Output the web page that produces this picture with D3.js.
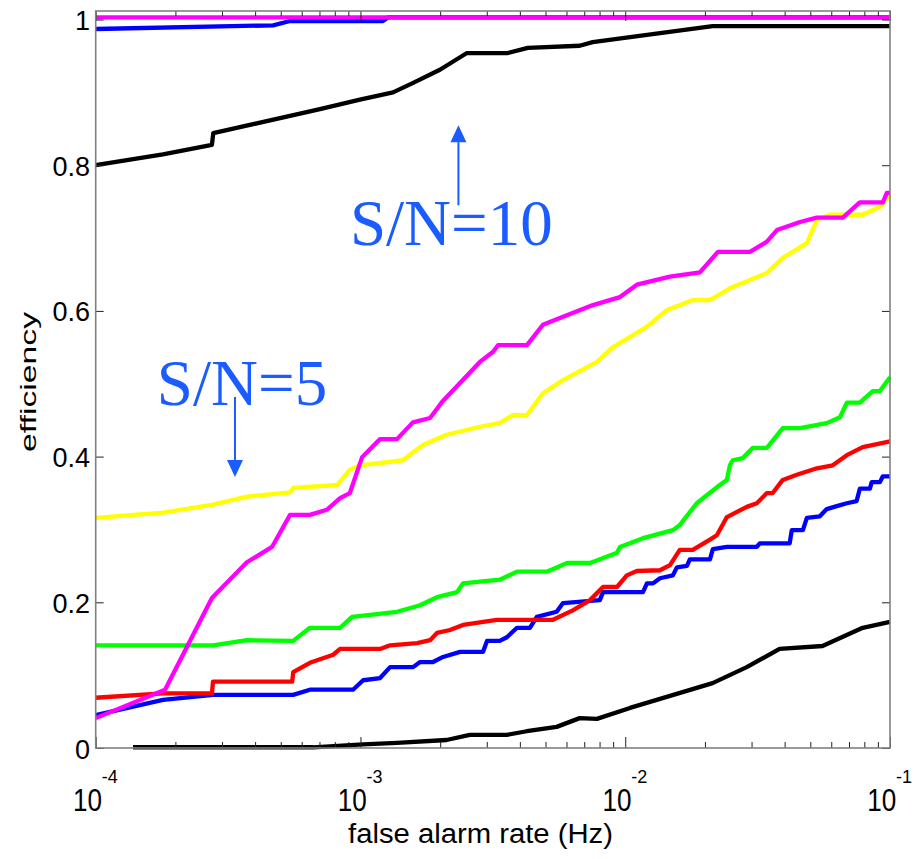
<!DOCTYPE html>
<html>
<head>
<meta charset="utf-8">
<script src="https://cdn.jsdelivr.net/npm/d3@7"></script>
<style>
  html, body { margin: 0; padding: 0; background: #fff; }
  svg { display: block; }
</style>
</head>
<body>
<svg id="chart" width="914" height="859"></svg>
<script>
// ---------------- DATA ----------------
// each point: [log10(false alarm rate in Hz), efficiency]
const xTickExponents = [-4, -3, -2, -1];
const yTickValues = [0, 0.2, 0.4, 0.6, 0.8, 1];
const yTickLabels = ["0", "0.2", "0.4", "0.6", "0.8", "1"];

// S/N = 10 curves
const snr10Black = [[-4.0,0.800],[-3.746,0.815],[-3.561,0.828],[-3.556,0.844],[-3.153,0.877],[-3.002,0.890],[-2.877,0.900],[-2.801,0.913],[-2.700,0.931],[-2.598,0.954],[-2.443,0.954],[-2.368,0.961],[-2.172,0.964],[-2.123,0.969],[-1.670,0.991],[-1.0,0.991]];
const snr10Blue = [[-4.0,0.987],[-3.330,0.992],[-3.266,0.998],[-2.915,0.998],[-2.896,1.003],[-1.0,1.003]];
const snr10Magenta = [[-4.0,1.003],[-1.0,1.003]];

// S/N = 5 curves
const snr5Black = [[-3.859,0.001],[-3.179,0.001],[-2.990,0.005],[-2.862,0.007],[-2.675,0.011],[-2.587,0.018],[-2.447,0.018],[-2.372,0.023],[-2.259,0.029],[-2.172,0.041],[-2.107,0.040],[-1.982,0.055],[-1.670,0.089],[-1.541,0.111],[-1.417,0.136],[-1.255,0.140],[-1.103,0.165],[-1.0,0.173]];
const snr5Blue = [[-4.0,0.045],[-3.746,0.066],[-3.557,0.073],[-3.254,0.073],[-3.191,0.080],[-3.028,0.080],[-2.990,0.093],[-2.926,0.096],[-2.888,0.111],[-2.801,0.111],[-2.775,0.118],[-2.726,0.118],[-2.688,0.125],[-2.624,0.132],[-2.537,0.132],[-2.522,0.147],[-2.474,0.147],[-2.447,0.152],[-2.409,0.165],[-2.360,0.165],[-2.334,0.180],[-2.259,0.187],[-2.235,0.199],[-2.096,0.203],[-2.084,0.214],[-1.933,0.214],[-1.918,0.226],[-1.895,0.226],[-1.869,0.233],[-1.820,0.237],[-1.805,0.248],[-1.767,0.250],[-1.756,0.259],[-1.680,0.259],[-1.669,0.273],[-1.616,0.276],[-1.503,0.276],[-1.492,0.281],[-1.379,0.281],[-1.371,0.299],[-1.329,0.299],[-1.314,0.316],[-1.265,0.318],[-1.239,0.328],[-1.201,0.332],[-1.163,0.336],[-1.126,0.339],[-1.114,0.356],[-1.076,0.356],[-1.069,0.365],[-1.038,0.365],[-1.027,0.373],[-1.0,0.373]];
const snr5Red = [[-4.0,0.069],[-3.746,0.075],[-3.561,0.075],[-3.557,0.091],[-3.258,0.091],[-3.254,0.104],[-3.191,0.117],[-3.103,0.128],[-3.077,0.136],[-2.926,0.136],[-2.888,0.141],[-2.786,0.144],[-2.737,0.148],[-2.711,0.158],[-2.662,0.162],[-2.613,0.169],[-2.485,0.176],[-2.273,0.176],[-2.198,0.189],[-2.133,0.203],[-2.084,0.221],[-2.031,0.221],[-1.994,0.237],[-1.956,0.243],[-1.869,0.244],[-1.831,0.251],[-1.794,0.272],[-1.745,0.272],[-1.680,0.286],[-1.654,0.292],[-1.616,0.317],[-1.541,0.331],[-1.503,0.336],[-1.465,0.350],[-1.443,0.350],[-1.405,0.368],[-1.352,0.375],[-1.276,0.384],[-1.216,0.388],[-1.163,0.402],[-1.103,0.413],[-1.0,0.421]];
const snr5Green = [[-4.0,0.141],[-3.557,0.141],[-3.429,0.148],[-3.254,0.147],[-3.191,0.165],[-3.077,0.165],[-3.032,0.180],[-2.862,0.187],[-2.775,0.196],[-2.711,0.207],[-2.635,0.214],[-2.613,0.226],[-2.474,0.231],[-2.409,0.242],[-2.296,0.242],[-2.220,0.254],[-2.133,0.254],[-2.031,0.268],[-2.020,0.276],[-1.933,0.288],[-1.820,0.299],[-1.794,0.306],[-1.730,0.336],[-1.643,0.361],[-1.616,0.368],[-1.605,0.388],[-1.594,0.395],[-1.556,0.398],[-1.518,0.412],[-1.465,0.412],[-1.405,0.439],[-1.340,0.439],[-1.239,0.446],[-1.189,0.454],[-1.163,0.474],[-1.114,0.474],[-1.065,0.490],[-1.038,0.490],[-1.0,0.509]];
const snr5Yellow = [[-4.0,0.316],[-3.746,0.323],[-3.557,0.334],[-3.429,0.345],[-3.266,0.351],[-3.254,0.357],[-3.088,0.361],[-3.040,0.382],[-3.002,0.388],[-2.840,0.395],[-2.764,0.416],[-2.675,0.430],[-2.549,0.441],[-2.474,0.446],[-2.424,0.457],[-2.371,0.457],[-2.311,0.487],[-2.235,0.505],[-2.107,0.530],[-2.047,0.550],[-1.919,0.578],[-1.843,0.601],[-1.745,0.615],[-1.680,0.615],[-1.605,0.631],[-1.465,0.652],[-1.405,0.673],[-1.314,0.693],[-1.276,0.725],[-1.227,0.732],[-1.103,0.732],[-1.038,0.743],[-1.0,0.759]];
const snr5Magenta = [[-4.0,0.041],[-3.738,0.080],[-3.561,0.206],[-3.429,0.255],[-3.334,0.276],[-3.266,0.320],[-3.191,0.320],[-3.127,0.327],[-3.077,0.343],[-3.040,0.350],[-2.994,0.399],[-2.926,0.424],[-2.862,0.424],[-2.802,0.447],[-2.737,0.453],[-2.692,0.475],[-2.624,0.501],[-2.549,0.530],[-2.499,0.544],[-2.480,0.553],[-2.371,0.553],[-2.311,0.581],[-2.235,0.592],[-2.122,0.608],[-2.020,0.619],[-1.956,0.636],[-1.831,0.647],[-1.718,0.653],[-1.650,0.681],[-1.529,0.681],[-1.465,0.695],[-1.427,0.711],[-1.340,0.722],[-1.276,0.728],[-1.178,0.728],[-1.114,0.749],[-1.027,0.749],[-1.012,0.762],[-1.0,0.762]];

const seriesList = [
  { data: snr10Black, color: "#000000" },
  { data: snr10Blue, color: "#0000ff" },
  { data: snr10Magenta, color: "#ff00ff" },
  { data: snr5Black, color: "#000000" },
  { data: snr5Blue, color: "#0000ff" },
  { data: snr5Red, color: "#ff0000" },
  { data: snr5Green, color: "#00ff00" },
  { data: snr5Yellow, color: "#ffff00" },
  { data: snr5Magenta, color: "#ff00ff" }
];

// annotations: [log10 x, efficiency]
const annotations = [
  { label: "S/N=10", textAt: [-3.040, 0.690], arrowFrom: [-2.630, 0.745], arrowTo: [-2.630, 0.855] },
  { label: "S/N=5", textAt: [-3.769, 0.471], arrowFrom: [-3.474, 0.482], arrowTo: [-3.474, 0.372] }
];

// ---------------- CHART ----------------
(function () {
const svg = d3.select("#chart");
const pLeft = 95.7, pRight = 890, pTop = 11, pBottom = 748;

const x = d3.scaleLog().domain([1e-4, 1e-1]).range([pLeft, pRight]);
const y = d3.scaleLinear().domain([0, 1.0117]).range([pBottom, pTop]);
const px = e => x(Math.pow(10, e));

// lines
const line = d3.line().x(d => px(d[0])).y(d => y(d[1]));
svg.append("g").selectAll("path")
  .data(seriesList).enter().append("path")
  .attr("d", d => line(d.data))
  .attr("fill", "none")
  .attr("stroke", d => d.color)
  .attr("stroke-width", 4.3)
  .attr("stroke-linejoin", "round")
  .attr("stroke-linecap", "butt");

// ticks
const majorTicks = xTickExponents.map(e => Math.pow(10, e));
const minorTicks = [];
for (let e = -4; e < -1; e++) for (let m = 2; m <= 9; m++) minorTicks.push(m * Math.pow(10, e));

function styleAxis(g) {
  g.select(".domain").remove();
  g.selectAll(".tick line").attr("stroke", "#222").attr("stroke-width", 1);
  g.selectAll(".tick text").remove();
}
svg.append("g").attr("transform", `translate(0,${pBottom})`)
  .call(d3.axisBottom(x).tickValues(minorTicks).tickSize(-6).tickFormat("")).call(styleAxis);
svg.append("g").attr("transform", `translate(0,${pBottom})`)
  .call(d3.axisBottom(x).tickValues(majorTicks).tickSize(-11).tickFormat("")).call(styleAxis);
svg.append("g").attr("transform", `translate(0,${pTop})`)
  .call(d3.axisTop(x).tickValues(minorTicks).tickSize(-5).tickFormat("")).call(styleAxis);
svg.append("g").attr("transform", `translate(0,${pTop})`)
  .call(d3.axisTop(x).tickValues(majorTicks).tickSize(-10).tickFormat("")).call(styleAxis);
svg.append("g").attr("transform", `translate(${pLeft},0)`)
  .call(d3.axisLeft(y).tickValues(yTickValues).tickSize(-8).tickFormat("")).call(styleAxis);
svg.append("g").attr("transform", `translate(${pRight},0)`)
  .call(d3.axisRight(y).tickValues(yTickValues).tickSize(-8).tickFormat("")).call(styleAxis);

// frame
svg.append("rect")
  .attr("x", pLeft).attr("y", pTop)
  .attr("width", pRight - pLeft).attr("height", pBottom - pTop)
  .attr("fill", "none").attr("stroke", "#808080").attr("stroke-width", 1.6);

// y tick labels
svg.append("g").selectAll("text").data(yTickValues).enter().append("text")
  .attr("x", 90).attr("y", d => y(d) + 10.5)
  .attr("text-anchor", "end")
  .attr("font-family", "Liberation Sans, Arial, sans-serif")
  .attr("font-size", 27)
  .attr("fill", "#000")
  .text((d, i) => yTickLabels[i]);

// x tick labels: 10^e
const xl = svg.append("g");
xTickExponents.forEach(e => {
  const cx = x(Math.pow(10, e));
  xl.append("text")
    .attr("x", cx - 22.7).attr("y", 811)
    .attr("font-family", "Liberation Sans, Arial, sans-serif")
    .attr("font-size", 31)
    .attr("textLength", 29).attr("lengthAdjust", "spacingAndGlyphs")
    .text("10");
  xl.append("text")
    .attr("x", cx + 6).attr("y", 783)
    .attr("font-family", "Liberation Sans, Arial, sans-serif")
    .attr("font-size", 18)
    .attr("textLength", 16).attr("lengthAdjust", "spacingAndGlyphs")
    .text(String(e));
});

// axis titles
svg.append("text")
  .attr("x", 480.5).attr("y", 843)
  .attr("text-anchor", "middle")
  .attr("font-family", "Liberation Sans, Arial, sans-serif")
  .attr("font-size", 27)
  .attr("textLength", 265).attr("lengthAdjust", "spacingAndGlyphs")
  .text("false alarm rate (Hz)");

svg.append("text")
  .attr("transform", "translate(36,382) rotate(-90)")
  .attr("text-anchor", "middle")
  .attr("font-family", "Liberation Sans, Arial, sans-serif")
  .attr("font-size", 22)
  .attr("textLength", 140).attr("lengthAdjust", "spacingAndGlyphs")
  .text("efficiency");

// annotations
const annColor = "#1a5cff";
const ann = svg.append("g");
annotations.forEach(a => {
  ann.append("text")
    .attr("x", px(a.textAt[0])).attr("y", y(a.textAt[1]))
    .attr("font-family", "Liberation Serif, Times New Roman, serif")
    .attr("font-size", 65)
    .attr("fill", annColor)
    .text(a.label);
  const x0 = px(a.arrowFrom[0]), y0 = y(a.arrowFrom[1]);
  const x1 = px(a.arrowTo[0]), y1 = y(a.arrowTo[1]);
  const dir = Math.sign(y1 - y0);
  const headLen = 17, headHalf = 8;
  ann.append("line")
    .attr("x1", x0).attr("y1", y0).attr("x2", x1).attr("y2", y1 - dir * headLen)
    .attr("stroke", annColor).attr("stroke-width", 2);
  ann.append("path")
    .attr("d", `M${x1},${y1} L${x1 - headHalf},${y1 - dir * headLen} L${x1 + headHalf},${y1 - dir * headLen} Z`)
    .attr("fill", annColor);
});
})();
</script>
</body>
</html>
